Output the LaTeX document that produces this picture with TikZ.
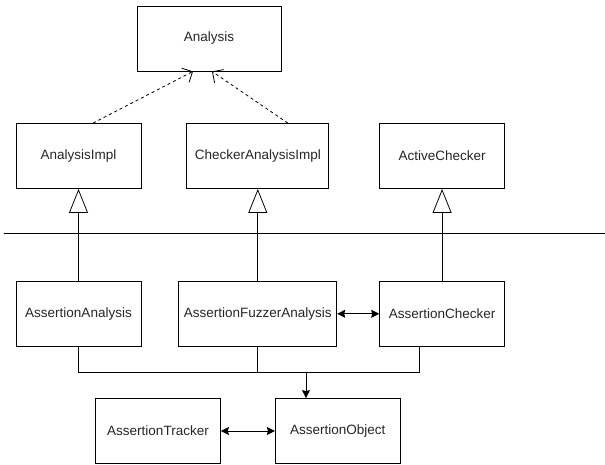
\documentclass[tikz,border=0pt]{standalone}
\usepackage{fontspec}
\setmainfont{Liberation Sans}
\usetikzlibrary{positioning,arrows.meta}

\begin{document}
\begin{tikzpicture} [
                x=1pt, y=-1pt,
                classbox/.style={
                    rectangle,
                    draw,
                    line width=0.8pt,
                    minimum width=125pt,
                    minimum height=65pt,
                    inner sep=2pt,
                    text=black!85,
                    font=\fontsize{13.5}{16}\selectfont
                },
                inherit/.style={
                    line width=0.8pt,
                    -{Triangle[open, length=24pt, width=19pt]}
                },
                realize/.style={
                    line width=0.8pt,
                    dashed,
                    -{Straight Barb[length=8pt, width=16pt]}
                },
                assoc/.style={
                    line width=0.8pt,
                    {Stealth[length=8pt, width=8pt, inset=1pt]}-{Stealth[length=8pt, width=8pt, inset=1pt]}
                },
                usedby/.style={
                    line width=0.8pt,
                    -{Stealth[length=8pt, width=8pt, inset=1pt]}
                }
            ]
                \useasboundingbox (0,0) rectangle (605,465);

                % interfaces and base classes
                \node[classbox, minimum width=144pt] (analysis) at (209,38.5) {Analysis};
                \node[classbox] (impl) at (78.5,156) {AnalysisImpl};
                \node[classbox, minimum width=142pt] (checkerimpl) [right=45pt of impl] {CheckerAnalysisImpl};
                \node[classbox] (active) [right=50pt of checkerimpl] {ActiveChecker};

                % separator between framework and assertion classes
                \draw[line width=0.8pt] (4,233) -- (605,233);

                % assertion classes
                \node[classbox] (aa) [below=92pt of impl] {AssertionAnalysis};
                \node[classbox, minimum width=158pt] (afa) [below=92pt of checkerimpl] {AssertionFuzzerAnalysis};
                \node[classbox] (ac) [below=92pt of active] {AssertionChecker};
                \node[classbox] (tracker) at (158,431) {AssertionTracker};
                \node[classbox] (object) [right=54pt of tracker] {AssertionObject};

                \draw[realize] ([xshift=14.5pt]impl.north) -- ([xshift=-16pt]analysis.south);
                \draw[realize] ([xshift=30pt]checkerimpl.north) -- ([xshift=3pt]analysis.south);

                \draw[inherit] (aa.north) -- (impl.south);
                \draw[inherit] (afa.north) -- (checkerimpl.south);
                \draw[inherit] (ac.north) -- (active.south);

                \draw[assoc] (afa.east) -- (ac.west);
                \draw[assoc] (tracker.east) -- (object.west);

                % all three share one arrow into AssertionObject
                \coordinate (bus) at (306,372);
                \draw[line width=0.8pt] (aa.south) |- (bus);
                \draw[line width=0.8pt] ([xshift=-22.5pt]ac.south) |- (bus);
                \draw[line width=0.8pt] (afa.south) -- (afa.south |- bus);
                \draw[usedby] (bus) -- (bus |- object.north);
            \end{tikzpicture}
\end{document}
